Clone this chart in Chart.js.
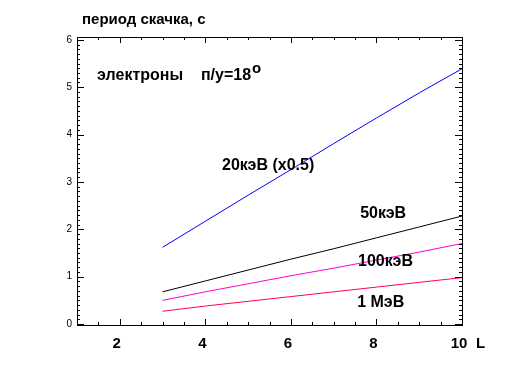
<!DOCTYPE html>
<html>
<head>
<meta charset="utf-8">
<script src="https://cdn.jsdelivr.net/npm/chart.js@4.4.1/dist/chart.umd.min.js"></script>
<style>
    html, body { margin: 0; padding: 0; background: #fff; }
    #wrap { width: 512px; height: 375px; }
</style>
</head>
<body>
<div id="wrap"><canvas id="periodChart" width="512" height="375"></canvas></div>
<script>
// L-оболочка
const lValues = [3, 4, 5, 6, 7, 8, 9, 10];
// период скачка, с
const e20keV = [1.62, 2.17, 2.72, 3.26, 3.81, 4.35, 4.88, 5.39];
const e50keV = [0.68, 0.91, 1.14, 1.37, 1.59, 1.82, 2.05, 2.28];
const e100keV = [0.50, 0.68, 0.85, 1.02, 1.18, 1.35, 1.52, 1.70];
const e1MeV = [0.27, 0.38, 0.48, 0.58, 0.68, 0.78, 0.88, 0.98];

const xTickLabels = [2, 4, 6, 8, 10];
const yTickLabels = [0, 1, 2, 3, 4, 5, 6];

const seriesLabels = ['20кэВ (x0.5)', '50кэВ', '100кэВ', '1 МэВ'];
const seriesColors = ['#0000ff', '#000000', '#ff00cc', '#ff0055'];
// где стоят подписи кривых (в координатах графика)
const labelX = [4.39, 7.62, 7.57, 7.55];
const labelY = [3.35, 2.33, 1.32, 0.45];

const FONT = '"Liberation Sans", Arial, sans-serif';

function toPoints(ys) {
    return lValues.map((l, i) => ({ x: l, y: ys[i] }));
}

// рамка, засечки внутрь и подписи
const framePlugin = {
    id: 'frame',
    afterDraw(chart) {
        const ctx = chart.ctx;
        const a = chart.chartArea;
        const xs = chart.scales.x;
        const ys = chart.scales.y;
        ctx.save();
        ctx.strokeStyle = '#000';
        ctx.lineWidth = 1;
        ctx.strokeRect(Math.round(a.left) + 0.5, Math.round(a.top) + 0.5,
            Math.round(a.right - a.left), Math.round(a.bottom - a.top));

        ctx.beginPath();
        for (let v = 1; v <= 10.001; v += 0.5) {
            const px = Math.round(xs.getPixelForValue(v)) + 0.5;
            const len = (Math.abs(v % 2) < 0.01) ? 6 : 3;
            ctx.moveTo(px, a.bottom); ctx.lineTo(px, a.bottom - len);
            ctx.moveTo(px, a.top); ctx.lineTo(px, a.top + len);
        }
        for (let k = 0; k <= 60; k++) {
            const v = k / 10;
            const py = Math.round(ys.getPixelForValue(v)) + 0.5;
            const len = (k % 10 === 0) ? 7 : 3;
            ctx.moveTo(a.left, py); ctx.lineTo(a.left + len, py);
            ctx.moveTo(a.right, py); ctx.lineTo(a.right - len, py);
        }
        ctx.stroke();

        ctx.fillStyle = '#000';
        ctx.textBaseline = 'middle';

        // подписи оси L, чуть левее засечек, как в оригинале
        ctx.textAlign = 'center';
        ctx.font = 'bold 15px ' + FONT;
        xTickLabels.forEach(v => {
            ctx.fillText(String(v), xs.getPixelForValue(v) - 3, 344);
        });

        ctx.textAlign = 'left';
        ctx.fillText('период скачка, с', 82, 20);
        ctx.fillText('L', 476, 344);

        ctx.font = 'bold 16px ' + FONT;
        seriesLabels.forEach((t, i) => {
            ctx.fillText(t, xs.getPixelForValue(labelX[i]), ys.getPixelForValue(labelY[i]));
        });

        const ex = xs.getPixelForValue(1.47);
        const ey = ys.getPixelForValue(5.25);
        const txt = 'электроны    п/у=18';
        ctx.fillText(txt, ex, ey);
        const w = ctx.measureText(txt).width;
        ctx.font = 'bold 15px ' + FONT;
        ctx.fillText('o', ex + w + 1, ey - 7);
        ctx.restore();
    }
};

const ctx = document.getElementById('periodChart').getContext('2d');
new Chart(ctx, {
    type: 'line',
    data: {
        datasets: [e20keV, e50keV, e100keV, e1MeV].map((ys, i) => ({
            label: seriesLabels[i],
            data: toPoints(ys),
            borderColor: seriesColors[i],
            borderWidth: 1,
            pointRadius: 0,
            fill: false,
            tension: 0
        }))
    },
    options: {
        responsive: false,
        animation: false,
        layout: { padding: { top: 37, right: 50, left: 0, bottom: 0 } },
        plugins: { legend: { display: false }, tooltip: { enabled: false } },
        scales: {
            x: {
                type: 'linear',
                min: 1,
                max: 10,
                afterBuildTicks: s => { s.ticks = xTickLabels.map(v => ({ value: v })); },
                afterFit: s => { s.height = 50; },
                grid: { display: false, drawTicks: false },
                border: { display: false },
                ticks: { display: false }
            },
            y: {
                min: -0.02,
                max: 6.06,
                afterBuildTicks: s => { s.ticks = yTickLabels.map(v => ({ value: v })); },
                afterFit: s => { s.width = 77; },
                grid: { display: false, drawTicks: false },
                border: { display: false },
                ticks: { color: '#000', padding: 5, font: { family: FONT, size: 10 } }
            }
        }
    },
    plugins: [framePlugin]
});
</script>
</body>
</html>
